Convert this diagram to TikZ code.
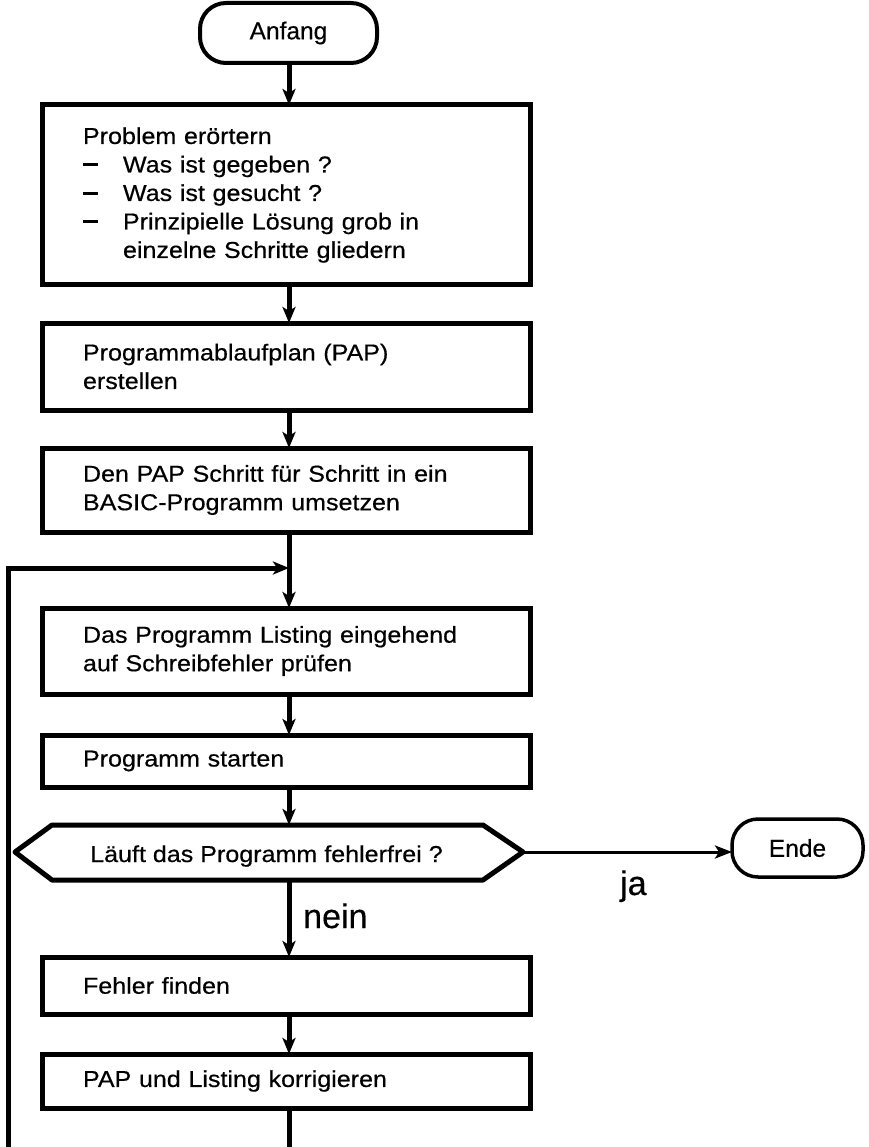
\documentclass[tikz,border=0pt]{standalone}
\usepackage{fontspec}
\setmainfont{Liberation Sans}
\newfontfamily\boxfont{Liberation Sans}[FakeStretch=1.09,FakeBold=0.5]
\newfontfamily\termfont{Liberation Sans}[FakeBold=0.4]
\usetikzlibrary{arrows.meta}
\tikzset{
  box/.style={draw, line width=5pt, minimum width=488pt, text width=406pt,
    inner xsep=41pt, inner ysep=0pt, outer sep=0pt, align=left, anchor=north west,
    font=\boxfont\fontsize{23}{28.5}\selectfont},
  term/.style={draw, rounded corners=26pt, inner sep=0pt, outer sep=0pt,
    font=\termfont\fontsize{24.5}{29}\selectfont},
  conn/.style={line width=5pt, -{Stealth[length=16pt,width=13pt,inset=4pt]}},
  jaconn/.style={line width=3pt, -{Stealth[length=17pt,width=13pt,inset=4pt]}},
  lab/.style={inner sep=0pt, anchor=base west, font=\termfont\fontsize{34}{40}\selectfont},
  dtxt/.style={inner sep=0pt, anchor=base west, font=\boxfont\fontsize{23}{28.5}\selectfont}
}
\newcommand{\dashitem}[1]{\makebox[40pt][l]{\rule[6pt]{15pt}{3pt}}#1}
\begin{document}
\begin{tikzpicture}[x=1pt,y=-1pt]
\useasboundingbox (0,0) rectangle (868,1147);
\coordinate (ax) at (289,0);

\node[term, line width=4pt, minimum width=177pt, minimum height=60pt] (start) at (288.5,33) {Anfang};

\node[box, minimum height=180pt] (b1) at (42,105) {Problem erörtern\\
\dashitem{Was ist gegeben ?}\\
\dashitem{Was ist gesucht ?}\\
\dashitem{Prinzipielle Lösung grob in}\\
\hspace*{40pt}einzelne Schritte gliedern};
\node[box, minimum height=87pt] (b2) at (42,323) {Programmablaufplan (PAP)\\erstellen};
\node[box, minimum height=84pt] (b3) at (42,448) {Den PAP Schritt für Schritt in ein\\BASIC-Programm umsetzen};
\node[box, minimum height=86pt] (b4) at (42,608) {Das Programm Listing eingehend\\auf Schreibfehler prüfen};
\node[box, minimum height=52pt] (b5) at (42,735) {Programm starten};

% decision
\coordinate (dl) at (15,852);
\coordinate (dtl) at (52,825);
\coordinate (dtr) at (483,825);
\coordinate (dr) at (523,852);
\coordinate (dbr) at (483,880);
\coordinate (dbl) at (52,880);
\draw[line width=5pt, line join=round] (dl) -- (dtl) -- (dtr) -- (dr) -- (dbr) -- (dbl) -- cycle;
\node[dtxt] (dtext) at (90,862) {Läuft das Programm fehlerfrei ?};

\node[term, line width=3.5pt, minimum width=131pt, minimum height=58pt] (ende) at (797.5,848) {Ende};

\node[box, minimum height=57pt] (b6) at (42,957) {Fehler finden};
\node[box, minimum height=54pt] (b7) at (42,1054) {PAP und Listing korrigieren};

\node[lab] (ja) at (620,895) {ja};
\node[lab] (nein) at (303,928) {nein};

% connectors
\draw[conn] (start.south -| ax) -- (b1.north -| ax);
\draw[conn] (b1.south -| ax) -- (b2.north -| ax);
\draw[conn] (b2.south -| ax) -- (b3.north -| ax);
\draw[conn] (b3.south -| ax) -- (b4.north -| ax);
\draw[conn] (b4.south -| ax) -- (b5.north -| ax);
\draw[conn] (b5.south -| ax) -- (dtl -| ax);
\draw[conn] (dbl -| ax) -- (b6.north -| ax);
\draw[conn] (b6.south -| ax) -- (b7.north -| ax);
\draw[jaconn] (dr) -- (dr -| ende.west);

\coordinate (bot) at (289,1147);
\draw[line width=5pt] (b7.south -| ax) -- (bot);
\coordinate (lb) at (8,1147);
\coordinate (lt) at (8,568);
\draw[conn] (lb) -- (lt) -- (lt -| ax);
\end{tikzpicture}
\end{document}
